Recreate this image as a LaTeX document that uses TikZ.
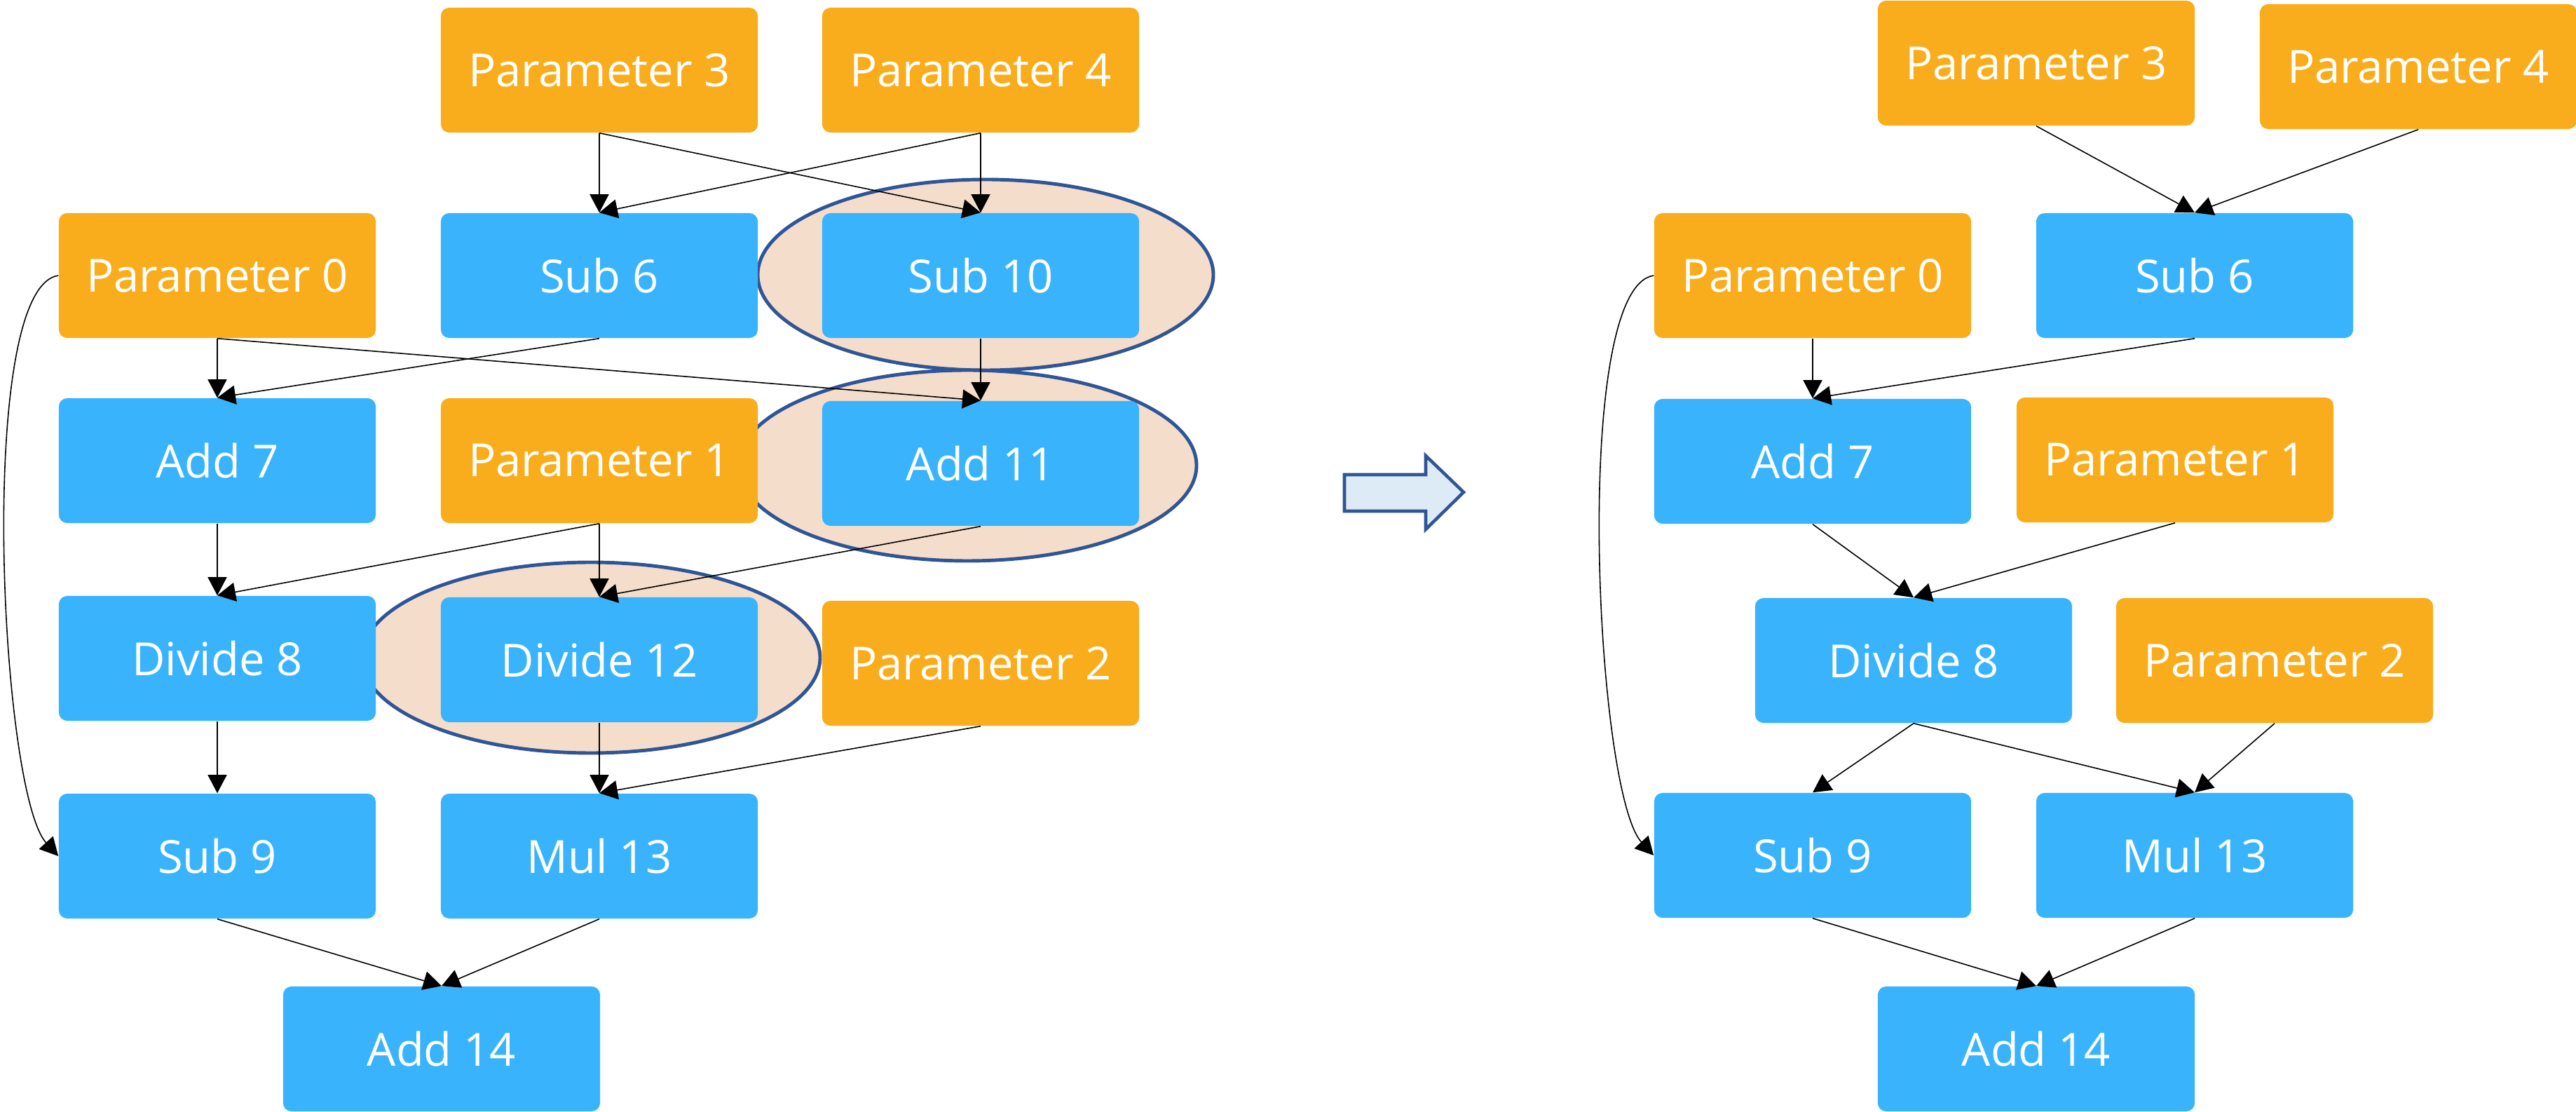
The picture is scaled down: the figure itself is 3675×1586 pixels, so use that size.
\documentclass[tikz,border=0pt]{standalone}
\usepackage{fontspec}
\setmainfont{Open Sans}
\usetikzlibrary{arrows.meta}
\definecolor{paramorange}{HTML}{F9AD1D}
\definecolor{opblue}{HTML}{3AB3FD}
\definecolor{fusefill}{HTML}{F4DDCB}
\definecolor{fuseline}{HTML}{2F5597}
\definecolor{arrowfill}{HTML}{DDEBF7}
\begin{document}
\begin{tikzpicture}[x=0.01cm,y=-0.01cm,>={Triangle[length=2.6mm,width=2.7mm]},
    box/.style={rounded corners=1.2mm,minimum width=4.52cm,minimum height=1.78cm,inner sep=0pt,
        text=white,font=\fontsize{18.5}{22}\selectfont},
    param/.style={box,fill=paramorange},
    op/.style={box,fill=opblue},
    fusion/.style={draw=fuseline,line width=1.4pt,fill=fusefill},
    flow/.style={->,line width=0.45pt}]
    \useasboundingbox (0,0) rectangle (3675,1586);
    % fused groups
    \draw[fusion] (1406,392) ellipse [x radius=325,y radius=136];
    \draw[fusion] (1380,664) ellipse [x radius=327,y radius=136];
    \draw[fusion] (843,938) ellipse [x radius=327,y radius=136];
    % before
    \node[param] (p3) at (855,100) {Parameter 3};
    \node[param] (p4) at (1399,100) {Parameter 4};
    \node[param] (p0) at (310,393) {Parameter 0};
    \node[op] (sub6) at (855,393) {Sub 6};
    \node[op] (sub10) at (1399,393) {Sub 10};
    \node[op] (add7) at (310,657) {Add 7};
    \node[param] (p1) at (855,657) {Parameter 1};
    \node[op] (add11) at (1399,661) {Add 11};
    \node[op] (div8) at (310,939) {Divide 8};
    \node[op] (div12) at (855,941) {Divide 12};
    \node[param] (p2) at (1399,946) {Parameter 2};
    \node[op] (sub9) at (310,1221) {Sub 9};
    \node[op] (mul13) at (855,1221) {Mul 13};
    \node[op] (add14) at (630,1496) {Add 14};
    \draw[flow] (p3.south) -- (sub6.north);
    \draw[flow] (p3.south) -- (sub10.north);
    \draw[flow] (p4.south) -- (sub6.north);
    \draw[flow] (p4.south) -- (sub10.north);
    \draw[flow] (p0.south) -- (add7.north);
    \draw[flow] (sub6.south) -- (add7.north);
    \draw[flow] (p0.south) -- (add11.north);
    \draw[flow] (sub10.south) -- (add11.north);
    \draw[flow] (add7.south) -- (div8.north);
    \draw[flow] (p1.south) -- (div8.north);
    \draw[flow] (p1.south) -- (div12.north);
    \draw[flow] (add11.south) -- (div12.north);
    \draw[flow] (div8.south) -- (sub9.north);
    \draw[flow] (div12.south) -- (mul13.north);
    \draw[flow] (p2.south) -- (mul13.north);
    \draw[flow] (sub9.south) -- (add14.north);
    \draw[flow] (mul13.south) -- (add14.north);
    \draw[flow] (p0.west) .. controls (-35,410) and (0,1130) .. (sub9.west);
    % arrow
    \draw[draw=fuseline,line width=1.3pt,fill=arrowfill]
        (1918,677) -- (2034,677) -- (2034,650) -- (2088,702) -- (2034,755) -- (2034,729) -- (1918,729) -- cycle;
    % after
    \node[param] (rp3) at (2905,90) {Parameter 3};
    \node[param] (rp4) at (3450,95) {Parameter 4};
    \node[param] (rp0) at (2586,393) {Parameter 0};
    \node[op] (rsub6) at (3131,393) {Sub 6};
    \node[op] (radd7) at (2586,658) {Add 7};
    \node[param] (rp1) at (3103,656) {Parameter 1};
    \node[op] (rdiv8) at (2730,942) {Divide 8};
    \node[param] (rp2) at (3245,942) {Parameter 2};
    \node[op] (rsub9) at (2586,1220) {Sub 9};
    \node[op] (rmul13) at (3131,1220) {Mul 13};
    \node[op] (radd14) at (2905,1496) {Add 14};
    \draw[flow] (rp3.south) -- (rsub6.north);
    \draw[flow] (rp4.south) -- (rsub6.north);
    \draw[flow] (rp0.south) -- (radd7.north);
    \draw[flow] (rsub6.south) -- (radd7.north);
    \draw[flow] (radd7.south) -- (rdiv8.north);
    \draw[flow] (rp1.south) -- (rdiv8.north);
    \draw[flow] (rdiv8.south) -- (rsub9.north);
    \draw[flow] (rdiv8.south) -- (rmul13.north);
    \draw[flow] (rp2.south) -- (rmul13.north);
    \draw[flow] (rsub9.south) -- (radd14.north);
    \draw[flow] (rmul13.south) -- (radd14.north);
    \draw[flow] (rp0.west) .. controls (2241,410) and (2276,1130) .. (rsub9.west);
\end{tikzpicture}
\end{document}
